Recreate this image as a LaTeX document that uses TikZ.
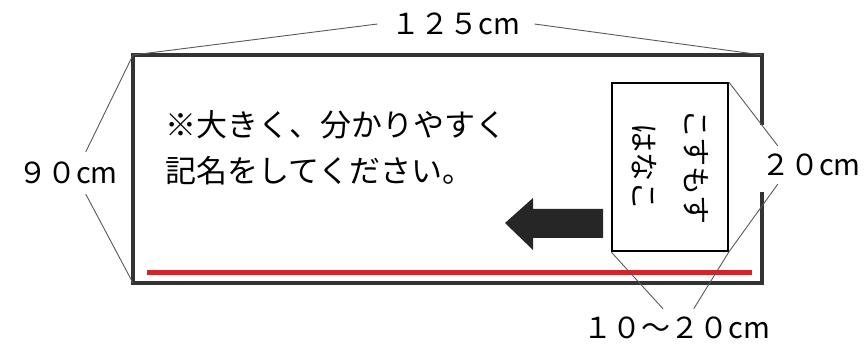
\documentclass[tikz,border=0pt]{standalone}
\usepackage{fontspec}
\newfontfamily\jp{Noto Sans CJK JP}
\definecolor{marker}{RGB}{215,35,40}

\begin{document}
\begin{tikzpicture}[x=1pt,y=-1pt,
    frame/.style={line width=4.5pt, draw=black!80},
    dimline/.style={line width=0.9pt, draw=black!65},
    dimlabel/.style={font=\jp\fontsize{29}{29}\selectfont, inner sep=8pt}]
    \useasboundingbox (0,0) rectangle (868,347);
    \coordinate (tl) at (133,55);
    \coordinate (tr) at (762,55);
    \coordinate (bl) at (133,283);
    \coordinate (br) at (762,283);
    \draw[frame] (762,125) -- (tr) -- (tl) -- (bl) -- (br) -- (762,192);
    \draw[line width=5pt, marker] (147,273) -- (752,273);
    \node[draw, line width=1.8pt, minimum width=116pt, minimum height=168pt] (card) at (670,167) {};
    \node[rotate=-90, align=center, font=\jp\fontsize{29}{52}\selectfont] (cardname) at (card.center) {こすもす\\はなこ};
    \fill[black!85] (505,223) -- (533,198) -- (533,209) -- (603,209) -- (603,238) -- (533,238) -- (533,250) -- cycle;
    \node[anchor=west, align=left, font=\jp\fontsize{31}{46}\selectfont, inner sep=0pt] (note) at (165,148) {※大きく、分かりやすく\\記名をしてください。};
    \node[dimlabel, inner xsep=14pt] (w) at (456,24) {１２５cm};
    \node[dimlabel, inner sep=10pt] (h) at (68,173) {９０cm};
    \node[dimlabel] (d) at (811,165) {２０cm};
    \node[dimlabel] (r) at (677,328) {１０～２０cm};
    \foreach \a/\b in {w.west/tl, w.east/tr, h.50/tl, h.-50/bl, d.150/card.north east, d.210/card.south east, r.126/card.south west, r.49/card.south east}
        \draw[dimline] (\a) -- (\b);
\end{tikzpicture}
\end{document}
